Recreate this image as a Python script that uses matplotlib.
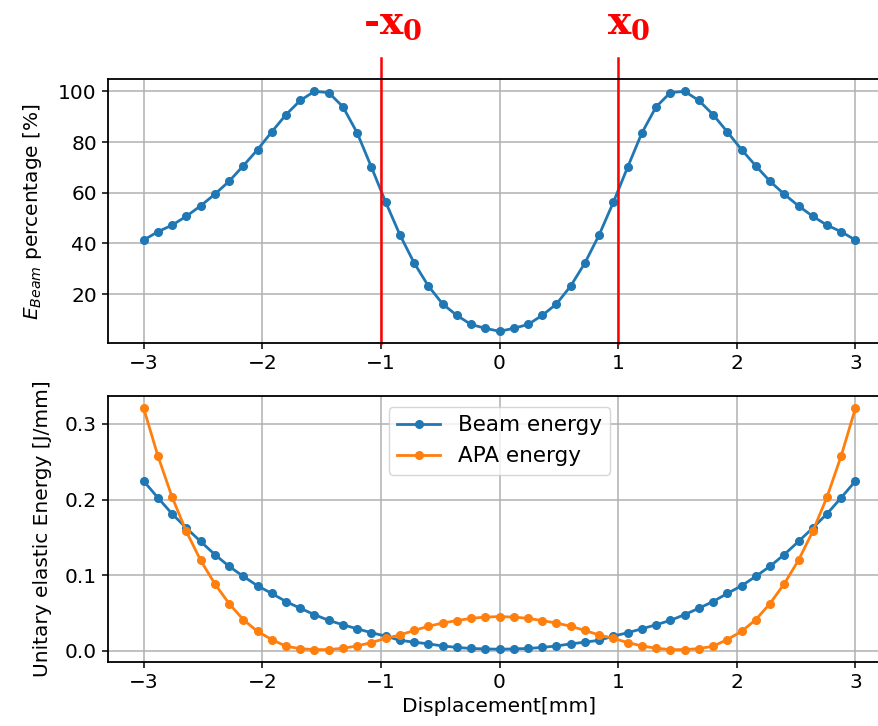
import matplotlib
matplotlib.use('Agg')
import matplotlib.pyplot as plt
import numpy as np

# Deslocamento [mm] (51 pontos de -3 a 3)
deslocamento = np.linspace(-3, 3, 51)

# Percentual de energia na viga
e_beam_pct = [41.3, 44.6, 47.2, 50.7, 54.8, 59.4, 64.5, 70.6, 77.0, 84.0,
              90.8, 96.4, 100.0, 99.5, 93.9, 83.6, 70.1, 56.3, 43.4, 32.3,
              23.2, 16.1, 11.6, 8.0, 6.5, 5.3,
              6.5, 8.0, 11.6, 16.1, 23.2, 32.3, 43.4, 56.3, 70.1, 83.6,
              93.9, 99.5, 100.0, 96.4, 90.8, 84.0, 77.0, 70.6, 64.5, 59.4,
              54.8, 50.7, 47.2, 44.6, 41.3]

# Energia elastica unitaria [J/mm]
beam_energy = [0.2245, 0.2024, 0.1811, 0.1624, 0.1446, 0.1273, 0.1118, 0.0985,
               0.0860, 0.0759, 0.0652, 0.0563, 0.0479, 0.0403, 0.0345, 0.0292,
               0.0240, 0.0195, 0.0140, 0.0115, 0.0093, 0.0065, 0.0046, 0.0032,
               0.0026, 0.0022,
               0.0026, 0.0032, 0.0046, 0.0065, 0.0093, 0.0115, 0.0140, 0.0195,
               0.0240, 0.0292, 0.0345, 0.0403, 0.0479, 0.0563, 0.0652, 0.0759,
               0.0860, 0.0985, 0.1118, 0.1273, 0.1446, 0.1624, 0.1811, 0.2024,
               0.2245]
apa_energy = [0.3209, 0.2578, 0.2032, 0.1579, 0.1198, 0.0887, 0.0626, 0.0413,
              0.0257, 0.0150, 0.0061, 0.0030, 0.0017, 0.0017, 0.0035, 0.0065,
              0.0110, 0.0165, 0.0210, 0.0270, 0.0325, 0.0368, 0.0400, 0.0430,
              0.0447, 0.0453,
              0.0447, 0.0430, 0.0400, 0.0368, 0.0325, 0.0270, 0.0210, 0.0165,
              0.0110, 0.0065, 0.0035, 0.0017, 0.0017, 0.0030, 0.0061, 0.0150,
              0.0257, 0.0413, 0.0626, 0.0887, 0.1198, 0.1579, 0.2032, 0.2578,
              0.3209]

x0 = 1.0

plt.rcParams['font.size'] = 14.5
plt.rcParams['axes.linewidth'] = 1.3
plt.rcParams['xtick.major.size'] = 4.5
plt.rcParams['ytick.major.size'] = 4.5
plt.rcParams['xtick.major.width'] = 1.1
plt.rcParams['ytick.major.width'] = 1.1

fig = plt.figure(figsize=(8.79, 7.26), dpi=100)
ax1 = fig.add_axes([0.1229, 0.5271, 0.8908, 0.3636])
ax2 = fig.add_axes([0.1229, 0.0886, 0.8908, 0.366])

# Grafico superior
ax1.plot(deslocamento, e_beam_pct, marker='o', ms=5.5, lw=2, color='#1f77b4')
ax1.axvline(-x0, ymin=0, ymax=1.081, color='red', lw=1.8, clip_on=False)
ax1.axvline(x0, ymin=0, ymax=1.081, color='red', lw=1.8, clip_on=False)
ax1.set_ylabel(r'$E_{Beam}$ percentage [%]', labelpad=10)
ax1.grid(True, lw=1.1)

# Rotulos -x0 e x0
fig.text(363 / 879, 1 - 34 / 726, r'-$\mathbf{x_0}$', color='red', fontsize=28,
         fontweight='bold', family='DejaVu Serif', math_fontfamily='dejavuserif',
         ha='left', va='baseline')
fig.text(607 / 879, 1 - 34 / 726, r'$\mathbf{x_0}$', color='red', fontsize=28,
         fontweight='bold', family='DejaVu Serif', math_fontfamily='dejavuserif',
         ha='left', va='baseline')

# Grafico inferior
ax2.plot(deslocamento, beam_energy, marker='o', ms=5.5, lw=2, label='Beam energy')
ax2.plot(deslocamento, apa_energy, marker='o', ms=5.5, lw=2, label='APA energy')
ax2.set_xlabel('Displacement[mm]')
ax2.set_ylabel('Unitary elastic Energy [J/mm]', labelpad=9)
ax2.legend(loc='upper center', fontsize=15.5)
ax2.grid(True, lw=1.1)

plt.savefig('out.png', dpi=100)
